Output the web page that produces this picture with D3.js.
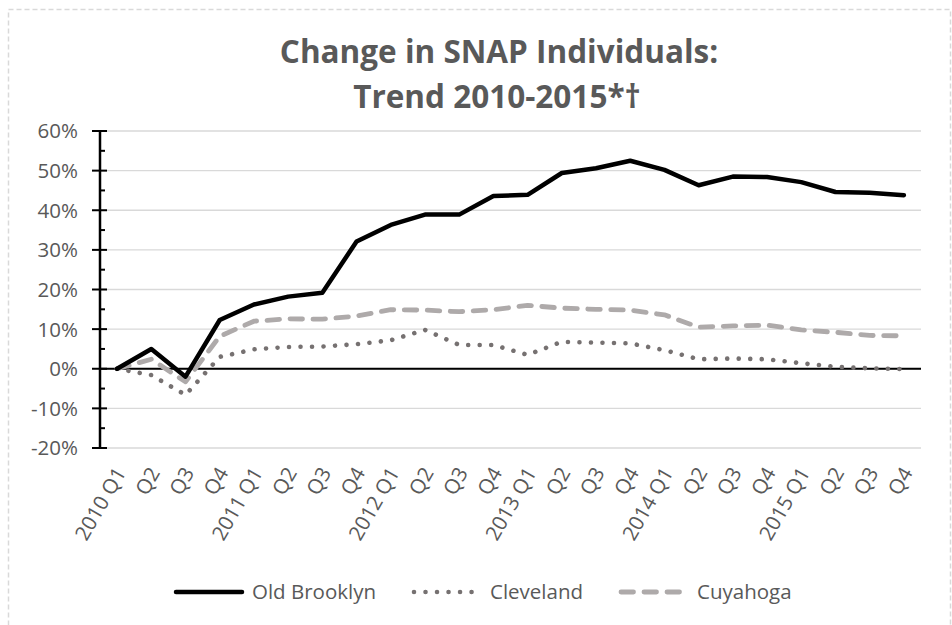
<!DOCTYPE html>
<html>
<head>
<meta charset="utf-8">
<title>Change in SNAP Individuals</title>
<script src="https://cdn.jsdelivr.net/npm/d3@7"></script>
<style>
  body { margin: 0; background: #fff; }
  svg { font-family: "Open Sans", sans-serif; }
</style>
</head>
<body>
<svg id="chart" width="952" height="625"></svg>
<script>
// quarters along the x axis
var quarters = ["2010 Q1", "Q2", "Q3", "Q4",
                "2011 Q1", "Q2", "Q3", "Q4",
                "2012 Q1", "Q2", "Q3", "Q4",
                "2013 Q1", "Q2", "Q3", "Q4",
                "2014 Q1", "Q2", "Q3", "Q4",
                "2015 Q1", "Q2", "Q3", "Q4"];

// % change since 2010 Q1
var oldBrooklyn = [0, 5.0, -2.0, 12.3, 16.2, 18.2, 19.2, 32.1, 36.3, 38.9, 38.9, 43.6,
                   43.9, 49.4, 50.6, 52.5, 50.2, 46.3, 48.5, 48.4, 47.1, 44.6, 44.4, 43.8];
var cleveland   = [0, -1.6, -6.6, 3.0, 4.9, 5.5, 5.6, 6.2, 7.2, 9.8, 6.0, 6.0,
                   3.5, 6.8, 6.6, 6.4, 4.7, 2.4, 2.6, 2.4, 1.4, 0.5, 0.1, -0.1];
var cuyahoga    = [0, 2.4, -3.3, 8.2, 12.0, 12.6, 12.5, 13.3, 14.9, 14.8, 14.4, 14.9,
                   16.0, 15.3, 15.0, 14.8, 13.6, 10.5, 10.8, 11.0, 9.8, 9.2, 8.4, 8.3];

var seriesNames = ["Old Brooklyn", "Cleveland", "Cuyahoga"];
var yTicks = [-20, -10, 0, 10, 20, 30, 40, 50, 60];

var series = [
  { name: seriesNames[0], values: oldBrooklyn, color: "#000000", width: 4.5, dash: null },
  { name: seriesNames[1], values: cleveland,   color: "#767171", width: 4.6, dash: "0.01 11.5" },
  { name: seriesNames[2], values: cuyahoga,    color: "#aeaaaa", width: 4.8, dash: "12.5 10.5" }
];

var svg = d3.select("#chart");
var plotLeft = 100, plotRight = 921, plotTop = 131, plotBottom = 448;
var textColor = "#595959";
var labelSize = 20.5;

// chart area border
svg.append("rect")
  .attr("x", 8.5).attr("y", 9.5)
  .attr("width", 942).attr("height", 630)
  .attr("fill", "none")
  .attr("stroke", "#d9d9d9")
  .attr("stroke-width", 1.5)
  .attr("stroke-dasharray", "5 3");

// title
var title = svg.append("text")
  .attr("text-anchor", "middle")
  .attr("fill", textColor)
  .attr("font-weight", "bold")
  .attr("font-size", 31.5);
title.append("tspan").attr("x", 499).attr("y", 63).text("Change in SNAP Individuals:");
title.append("tspan").attr("x", 497).attr("y", 108).text("Trend 2010-2015*\u2020");

var idx = d3.range(quarters.length);
var x = d3.scalePoint().domain(idx).range([plotLeft, plotRight]).padding(0.5);
var y = d3.scaleLinear().domain([-20, 60]).range([plotBottom, plotTop]);

// gridlines
svg.append("g")
  .selectAll("line")
  .data(yTicks)
  .join("line")
  .attr("x1", plotLeft).attr("x2", plotRight)
  .attr("y1", function (d) { return y(d); })
  .attr("y2", function (d) { return y(d); })
  .attr("stroke", "#d9d9d9")
  .attr("stroke-width", 1.3);

// zero line
svg.append("line")
  .attr("x1", plotLeft).attr("x2", plotRight)
  .attr("y1", y(0)).attr("y2", y(0))
  .attr("stroke", "#000").attr("stroke-width", 2);

// y axis with major (cross) and minor ticks
var yAxis = svg.append("g");
yAxis.append("line")
  .attr("x1", plotLeft).attr("x2", plotLeft)
  .attr("y1", y(60)).attr("y2", y(-20))
  .attr("stroke", "#000").attr("stroke-width", 2.5);
yAxis.selectAll(".major")
  .data(yTicks)
  .join("line")
  .attr("class", "major")
  .attr("x1", plotLeft - 8).attr("x2", plotLeft + 7)
  .attr("y1", function (d) { return y(d); })
  .attr("y2", function (d) { return y(d); })
  .attr("stroke", "#000").attr("stroke-width", 2);
yAxis.selectAll(".minor")
  .data(d3.range(-15, 60, 10))
  .join("line")
  .attr("class", "minor")
  .attr("x1", plotLeft).attr("x2", plotLeft + 5)
  .attr("y1", function (d) { return y(d); })
  .attr("y2", function (d) { return y(d); })
  .attr("stroke", "#000").attr("stroke-width", 2);
yAxis.selectAll("text")
  .data(yTicks)
  .join("text")
  .attr("x", 78)
  .attr("y", function (d) { return y(d); })
  .attr("dy", "0.36em")
  .attr("text-anchor", "end")
  .attr("fill", textColor)
  .attr("font-size", labelSize)
  .text(function (d) { return d + "%"; });

// x labels, rotated
svg.append("g")
  .selectAll("text")
  .data(idx)
  .join("text")
  .attr("transform", function (i) { return "translate(" + (x(i) + 3) + ",469) rotate(-60)"; })
  .attr("text-anchor", "end")
  .attr("dy", "0.36em")
  .attr("fill", textColor)
  .attr("font-size", labelSize)
  .text(function (i) { return quarters[i]; });

// lines
var line = d3.line()
  .x(function (d, i) { return x(i); })
  .y(function (d) { return y(d); });

svg.append("g")
  .selectAll("path")
  .data(series.slice().reverse())
  .join("path")
  .attr("d", function (s) { return line(s.values); })
  .attr("fill", "none")
  .attr("stroke", function (s) { return s.color; })
  .attr("stroke-width", function (s) { return s.width; })
  .attr("stroke-dasharray", function (s) { return s.dash; })
  .attr("stroke-linecap", "round")
  .attr("stroke-linejoin", "round");

// legend
var legendY = 592;
var legendX = [176, 414, 621];
var legend = svg.append("g")
  .selectAll("g")
  .data(series)
  .join("g")
  .attr("transform", function (s, i) { return "translate(" + legendX[i] + "," + legendY + ")"; });
legend.append("line")
  .attr("x1", 0).attr("x2", 66)
  .attr("stroke", function (s) { return s.color; })
  .attr("stroke-width", function (s) { return s.width; })
  .attr("stroke-dasharray", function (s) { return s.dash; })
  .attr("stroke-linecap", "round");
legend.append("text")
  .attr("x", 76)
  .attr("dy", "0.36em")
  .attr("fill", textColor)
  .attr("font-size", labelSize)
  .text(function (s) { return s.name; });
</script>
</body>
</html>
